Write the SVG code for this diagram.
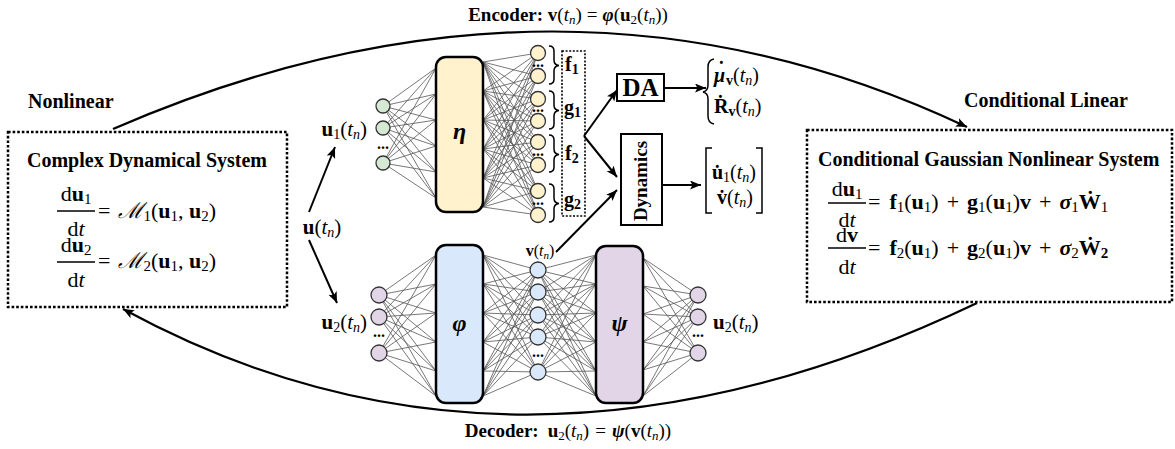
<svg xmlns="http://www.w3.org/2000/svg" width="1175" height="449" viewBox="0 0 1175 449" font-family="'Liberation Serif', 'Times New Roman', Times, serif">
<defs>
<style>
text{font-family:'Liberation Serif','Times New Roman',Times,serif;fill:#000}
.b{font-weight:bold}
.i{font-style:italic}
.sys{fill:#fff;stroke:#000;stroke-width:2.5;stroke-dasharray:2.6 2}
.edge{fill:none;stroke:#555;stroke-width:0.8}
.layer{stroke:#000;stroke-width:2.5}
.nd{stroke:#333;stroke-width:1.3}
.g{fill:#d5e8d4}.y{fill:#fff2cc}.bl{fill:#dae8fc}.p{fill:#e1d5e7}
.arr{fill:none;stroke:#000;stroke-width:2;marker-end:url(#ah)}
.arc{fill:none;stroke:#000;stroke-width:2.2;marker-end:url(#ah)}
.br{fill:none;stroke:#000;stroke-width:1.5}
.box{fill:#fff;stroke:#000;stroke-width:2}
.eq{font-size:22px}
.sb{font-size:15px}
.lb{font-size:21px}
.ls{font-size:14px}
</style>
<marker id="ah" markerUnits="userSpaceOnUse" markerWidth="12" markerHeight="10" refX="11" refY="4.5" orient="auto">
<path d="M0,0 L11,4.5 L0,9 L2.5,4.5 z" fill="#000"/>
</marker>
</defs>
<rect width="1175" height="449" fill="#fff"/>

<g id="connectors">
<path class="arc" d="M113 129 Q560 -65 967 127"/>
<path class="arc" d="M977 303 Q516 523 123 309"/>
<path class="arr" d="M309 212 L335 147"/>
<path class="arr" d="M309 240 L337 303"/>
<path class="arr" d="M584 136 L617 90"/>
<path class="arr" d="M584 136 L617 177"/>
<path class="arr" d="M556 252 L617 190"/>
<path class="arr" d="M664 88 L706 88"/>
<path class="arr" d="M662 185 L701 185"/>
</g>

<g id="nn-edges" class="edge">
<path d="M383 106L436 68M383 106L436 94M383 106L436 120M383 106L436 146M383 106L436 172M383 106L436 198M383 128L436 68M383 128L436 94M383 128L436 120M383 128L436 146M383 128L436 172M383 128L436 198M383 163L436 68M383 163L436 94M383 163L436 120M383 163L436 146M383 163L436 172M383 163L436 198"/>
<path d="M538 53L483 62M538 53L483 91M538 53L483 120M538 53L483 149M538 53L483 178M538 53L483 207M538 76L483 62M538 76L483 91M538 76L483 120M538 76L483 149M538 76L483 178M538 76L483 207M538 99L483 62M538 99L483 91M538 99L483 120M538 99L483 149M538 99L483 178M538 99L483 207M538 121L483 62M538 121L483 91M538 121L483 120M538 121L483 149M538 121L483 178M538 121L483 207M538 142L483 62M538 142L483 91M538 142L483 120M538 142L483 149M538 142L483 178M538 142L483 207M538 165L483 62M538 165L483 91M538 165L483 120M538 165L483 149M538 165L483 178M538 165L483 207M538 191L483 62M538 191L483 91M538 191L483 120M538 191L483 149M538 191L483 178M538 191L483 207M538 215L483 62M538 215L483 91M538 215L483 120M538 215L483 149M538 215L483 178M538 215L483 207"/>
<path d="M379 295L436 255M379 295L436 284M379 295L436 313M379 295L436 342M379 295L436 371M379 295L436 396M379 317L436 255M379 317L436 284M379 317L436 313M379 317L436 342M379 317L436 371M379 317L436 396M379 353L436 255M379 353L436 284M379 353L436 313M379 353L436 342M379 353L436 371M379 353L436 396"/>
<path d="M538 270L483 255M538 270L483 284M538 270L483 313M538 270L483 342M538 270L483 371M538 270L483 396M538 292L483 255M538 292L483 284M538 292L483 313M538 292L483 342M538 292L483 371M538 292L483 396M538 315L483 255M538 315L483 284M538 315L483 313M538 315L483 342M538 315L483 371M538 315L483 396M538 337L483 255M538 337L483 284M538 337L483 313M538 337L483 342M538 337L483 371M538 337L483 396M538 372L483 255M538 372L483 284M538 372L483 313M538 372L483 342M538 372L483 371M538 372L483 396"/>
<path d="M538 270L596 255M538 270L596 284M538 270L596 313M538 270L596 342M538 270L596 371M538 270L596 396M538 292L596 255M538 292L596 284M538 292L596 313M538 292L596 342M538 292L596 371M538 292L596 396M538 315L596 255M538 315L596 284M538 315L596 313M538 315L596 342M538 315L596 371M538 315L596 396M538 337L596 255M538 337L596 284M538 337L596 313M538 337L596 342M538 337L596 371M538 337L596 396M538 372L596 255M538 372L596 284M538 372L596 313M538 372L596 342M538 372L596 371M538 372L596 396"/>
<path d="M698 295L643 258M698 295L643 286M698 295L643 314M698 295L643 342M698 295L643 370M698 295L643 396M698 317L643 258M698 317L643 286M698 317L643 314M698 317L643 342M698 317L643 370M698 317L643 396M698 353L643 258M698 353L643 286M698 353L643 314M698 353L643 342M698 353L643 370M698 353L643 396"/>
</g>

<g id="left-system">
<rect class="sys" x="8" y="132" width="279" height="175"/>
<text class="b" x="27" y="167" font-size="20">Complex Dynamical System</text>
<text class="eq" x="76" y="201" text-anchor="middle">d<tspan class="b">u</tspan><tspan class="sb" dy="3">1</tspan></text>
<line x1="57" y1="211" x2="95" y2="211" stroke="#000" stroke-width="1.3"/>
<text class="eq" x="76" y="236" text-anchor="middle">d<tspan class="i">t</tspan></text>
<text class="eq" x="98" y="218">=<tspan class="i" dx="8">ℳ</tspan><tspan class="sb" dy="3">1</tspan><tspan dy="-3">(</tspan><tspan class="b">u</tspan><tspan class="sb" dy="3">1</tspan><tspan dy="-3">, </tspan><tspan class="b">u</tspan><tspan class="sb" dy="3">2</tspan><tspan dy="-3">)</tspan></text>
<text class="eq" x="76" y="252" text-anchor="middle">d<tspan class="b">u</tspan><tspan class="sb" dy="3">2</tspan></text>
<line x1="57" y1="262" x2="95" y2="262" stroke="#000" stroke-width="1.3"/>
<text class="eq" x="76" y="287" text-anchor="middle">d<tspan class="i">t</tspan></text>
<text class="eq" x="98" y="268">=<tspan class="i" dx="8">ℳ</tspan><tspan class="sb" dy="3">2</tspan><tspan dy="-3">(</tspan><tspan class="b">u</tspan><tspan class="sb" dy="3">1</tspan><tspan dy="-3">, </tspan><tspan class="b">u</tspan><tspan class="sb" dy="3">2</tspan><tspan dy="-3">)</tspan></text>
</g>

<g id="right-system">
<rect class="sys" x="807" y="130" width="365" height="172"/>
<text class="b" x="818" y="166" font-size="20">Conditional Gaussian Nonlinear System</text>
<text class="eq" x="847" y="196" text-anchor="middle">d<tspan class="b">u</tspan><tspan class="sb" dy="3">1</tspan></text>
<line x1="828" y1="203" x2="866" y2="203" stroke="#000" stroke-width="1.3"/>
<text class="eq" x="847" y="227" text-anchor="middle">d<tspan class="i">t</tspan></text>
<text class="eq" x="868" y="209">=<tspan class="b" dx="9">f</tspan><tspan class="sb" dy="3">1</tspan><tspan dy="-3">(</tspan><tspan class="b">u</tspan><tspan class="sb" dy="3">1</tspan><tspan dy="-3">)</tspan><tspan dx="8">+</tspan><tspan class="b" dx="8">g</tspan><tspan class="sb" dy="3">1</tspan><tspan dy="-3">(</tspan><tspan class="b">u</tspan><tspan class="sb" dy="3">1</tspan><tspan dy="-3">)</tspan><tspan class="b">v</tspan><tspan dx="8">+</tspan><tspan class="b i" dx="8">σ</tspan><tspan class="sb" dy="3">1</tspan><tspan class="b" dy="-3">Ẇ</tspan><tspan class="sb" dy="3">1</tspan></text>
<text class="eq" x="847" y="242" text-anchor="middle">d<tspan class="b">v</tspan></text>
<line x1="828" y1="248" x2="866" y2="248" stroke="#000" stroke-width="1.3"/>
<text class="eq" x="847" y="274" text-anchor="middle">d<tspan class="i">t</tspan></text>
<text class="eq" x="868" y="255">=<tspan class="b" dx="9">f</tspan><tspan class="sb" dy="3">2</tspan><tspan dy="-3">(</tspan><tspan class="b">u</tspan><tspan class="sb" dy="3">1</tspan><tspan dy="-3">)</tspan><tspan dx="8">+</tspan><tspan class="b" dx="8">g</tspan><tspan class="sb" dy="3">2</tspan><tspan dy="-3">(</tspan><tspan class="b">u</tspan><tspan class="sb" dy="3">1</tspan><tspan dy="-3">)</tspan><tspan class="b">v</tspan><tspan dx="8">+</tspan><tspan class="b i" dx="8">σ</tspan><tspan class="sb" dy="3">2</tspan><tspan class="b" dy="-3">Ẇ</tspan><tspan class="sb b" dy="3">2</tspan></text>
</g>

<g id="labels">
<text class="b" x="28" y="108" font-size="20">Nonlinear</text>
<text class="b" x="964" y="107" font-size="20">Conditional Linear</text>
<text x="568" y="21" font-size="19" text-anchor="middle"><tspan class="b">Encoder: v</tspan>(<tspan class="i">t</tspan><tspan class="i" font-size="13" dy="3">n</tspan><tspan dy="-3">)</tspan><tspan dx="5">=</tspan><tspan class="b i" dx="5">φ</tspan>(<tspan class="b">u</tspan><tspan font-size="13" dy="3">2</tspan><tspan dy="-3">(</tspan><tspan class="i">t</tspan><tspan class="i" font-size="13" dy="3">n</tspan><tspan dy="-3">))</tspan></text>
<text x="568" y="437" font-size="19" text-anchor="middle"><tspan class="b">Decoder:</tspan><tspan class="b" dx="9">u</tspan><tspan font-size="13" dy="3">2</tspan><tspan dy="-3">(</tspan><tspan class="i">t</tspan><tspan class="i" font-size="13" dy="3">n</tspan><tspan dy="-3">)</tspan><tspan dx="6">=</tspan><tspan class="b i" dx="6">ψ</tspan>(<tspan class="b">v</tspan>(<tspan class="i">t</tspan><tspan class="i" font-size="13" dy="3">n</tspan><tspan dy="-3">))</tspan></text>
<text class="lb" x="322" y="234" text-anchor="middle"><tspan class="b">u</tspan>(<tspan class="i">t</tspan><tspan class="i ls" dy="3">n</tspan><tspan dy="-3">)</tspan></text>
</g>

<g id="eta-net">
<text class="lb" x="367" y="136" text-anchor="end"><tspan class="b">u</tspan><tspan class="ls" dy="3">1</tspan><tspan dy="-3">(</tspan><tspan class="i">t</tspan><tspan class="i ls" dy="3">n</tspan><tspan dy="-3">)</tspan></text>
<circle class="nd g" cx="383" cy="106" r="7"/>
<circle class="nd g" cx="383" cy="128" r="7"/>
<circle class="nd g" cx="383" cy="163" r="7"/>
<text class="b" x="383" y="149" font-size="16" text-anchor="middle">...</text>
<rect class="layer y" x="436" y="57" width="47" height="155" rx="10"/>
<text class="b i" x="459.5" y="139" font-size="24" text-anchor="middle">η</text>
<circle class="nd y" cx="538" cy="53" r="7.5"/>
<circle class="nd y" cx="538" cy="76" r="7.5"/>
<circle class="nd y" cx="538" cy="99" r="7.5"/>
<circle class="nd y" cx="538" cy="121" r="7.5"/>
<circle class="nd y" cx="538" cy="142" r="7.5"/>
<circle class="nd y" cx="538" cy="165" r="7.5"/>
<circle class="nd y" cx="538" cy="191" r="7.5"/>
<circle class="nd y" cx="538" cy="215" r="7.5"/>
<text class="b" x="538" y="67" font-size="16" text-anchor="middle">...</text>
<text class="b" x="538" y="112" font-size="16" text-anchor="middle">...</text>
<text class="b" x="538" y="156" font-size="16" text-anchor="middle">...</text>
<text class="b" x="538" y="205" font-size="16" text-anchor="middle">...</text>
<path class="br" stroke="#333" d="M549 46 Q554 46 554 51 L554 60 Q554 65 559 65.5 Q554 66 554 71 L554 79 Q554 84 549 84"/>
<path class="br" stroke="#333" d="M549 91 Q554 91 554 96 L554 105 Q554 110 559 110.5 Q554 111 554 116 L554 124 Q554 129 549 129"/>
<path class="br" stroke="#333" d="M549 135 Q554 135 554 140 L554 149 Q554 154 559 154.5 Q554 155 554 160 L554 167 Q554 172 549 172"/>
<path class="br" stroke="#333" d="M549 184 Q554 184 554 189 L554 198 Q554 203 559 203.5 Q554 204 554 209 L554 217 Q554 222 549 222"/>
<rect x="562" y="51" width="23" height="165" fill="none" stroke="#000" stroke-width="1.6" stroke-dasharray="2 1.6"/>
<text class="b" x="565" y="71" font-size="20">f<tspan font-size="14" dy="3">1</tspan></text>
<text class="b" x="564" y="114" font-size="20">g<tspan font-size="14" dy="3">1</tspan></text>
<text class="b" x="565" y="160" font-size="20">f<tspan font-size="14" dy="3">2</tspan></text>
<text class="b" x="564" y="206" font-size="20">g<tspan font-size="14" dy="3">2</tspan></text>
</g>

<g id="phi-psi-net">
<text class="lb" x="367" y="329" text-anchor="end"><tspan class="b">u</tspan><tspan class="ls" dy="3">2</tspan><tspan dy="-3">(</tspan><tspan class="i">t</tspan><tspan class="i ls" dy="3">n</tspan><tspan dy="-3">)</tspan></text>
<circle class="nd p" cx="379" cy="295" r="8"/>
<circle class="nd p" cx="379" cy="317" r="8"/>
<circle class="nd p" cx="379" cy="353" r="8"/>
<text class="b" x="379" y="337" font-size="16" text-anchor="middle">...</text>
<rect class="layer bl" x="436" y="245" width="47" height="158" rx="10"/>
<text class="b i" x="459.5" y="331" font-size="24" text-anchor="middle">φ</text>
<text x="540" y="256" font-size="16" text-anchor="middle"><tspan class="b">v</tspan>(<tspan class="i">t</tspan><tspan class="i" font-size="11" dy="3">n</tspan><tspan dy="-3">)</tspan></text>
<circle class="nd bl" cx="538" cy="270" r="8"/>
<circle class="nd bl" cx="538" cy="292" r="8"/>
<circle class="nd bl" cx="538" cy="315" r="8"/>
<circle class="nd bl" cx="538" cy="337" r="8"/>
<circle class="nd bl" cx="538" cy="372" r="8"/>
<text class="b" x="538" y="357" font-size="16" text-anchor="middle">...</text>
<rect class="layer p" x="596" y="246" width="47" height="157" rx="10"/>
<text class="b i" x="619.5" y="331" font-size="24" text-anchor="middle">ψ</text>
<circle class="nd p" cx="698" cy="295" r="8"/>
<circle class="nd p" cx="698" cy="317" r="8"/>
<circle class="nd p" cx="698" cy="353" r="8"/>
<text class="b" x="698" y="337" font-size="16" text-anchor="middle">...</text>
<text class="lb" x="713" y="329"><tspan class="b">u</tspan><tspan class="ls" dy="3">2</tspan><tspan dy="-3">(</tspan><tspan class="i">t</tspan><tspan class="i ls" dy="3">n</tspan><tspan dy="-3">)</tspan></text>
</g>

<g id="DA">
<rect class="box" x="617" y="74" width="47" height="27"/>
<text class="b" x="640.5" y="96" font-size="25" text-anchor="middle">DA</text>
<path class="br" d="M714 59 Q708 60 708 67 L708 85 Q708 91 703 92 Q708 93 708 99 L708 116 Q708 123 714 124"/>
<text x="714" y="82" font-size="20"><tspan class="b i">μ</tspan><tspan class="b" x="718" dy="-6">˙</tspan><tspan class="b" x="726" dy="9" font-size="14">v</tspan><tspan dy="-3">(</tspan><tspan class="i">t</tspan><tspan class="i" font-size="14" dy="3">n</tspan><tspan dy="-3">)</tspan></text>
<text x="714" y="113" font-size="20"><tspan class="b">Ṙ</tspan><tspan class="b" font-size="14" dy="3">v</tspan><tspan dy="-3">(</tspan><tspan class="i">t</tspan><tspan class="i" font-size="14" dy="3">n</tspan><tspan dy="-3">)</tspan></text>
</g>

<g id="dynamics">
<rect class="box" x="621" y="134" width="41" height="91"/>
<text class="b" font-size="19" text-anchor="middle" transform="translate(647,181) rotate(-90)">Dynamics</text>
<path class="br" d="M712 148 L706 148 L706 213 L712 213"/>
<path class="br" d="M756 148 L762 148 L762 213 L756 213"/>
<text x="734" y="179" font-size="20" text-anchor="middle"><tspan class="b">u̇</tspan><tspan font-size="14" dy="3">1</tspan><tspan dy="-3">(</tspan><tspan class="i">t</tspan><tspan class="i" font-size="14" dy="3">n</tspan><tspan dy="-3">)</tspan></text>
<text x="735" y="204" font-size="20" text-anchor="middle"><tspan class="b">v̇</tspan>(<tspan class="i">t</tspan><tspan class="i" font-size="14" dy="3">n</tspan><tspan dy="-3">)</tspan></text>
</g>
</svg>
